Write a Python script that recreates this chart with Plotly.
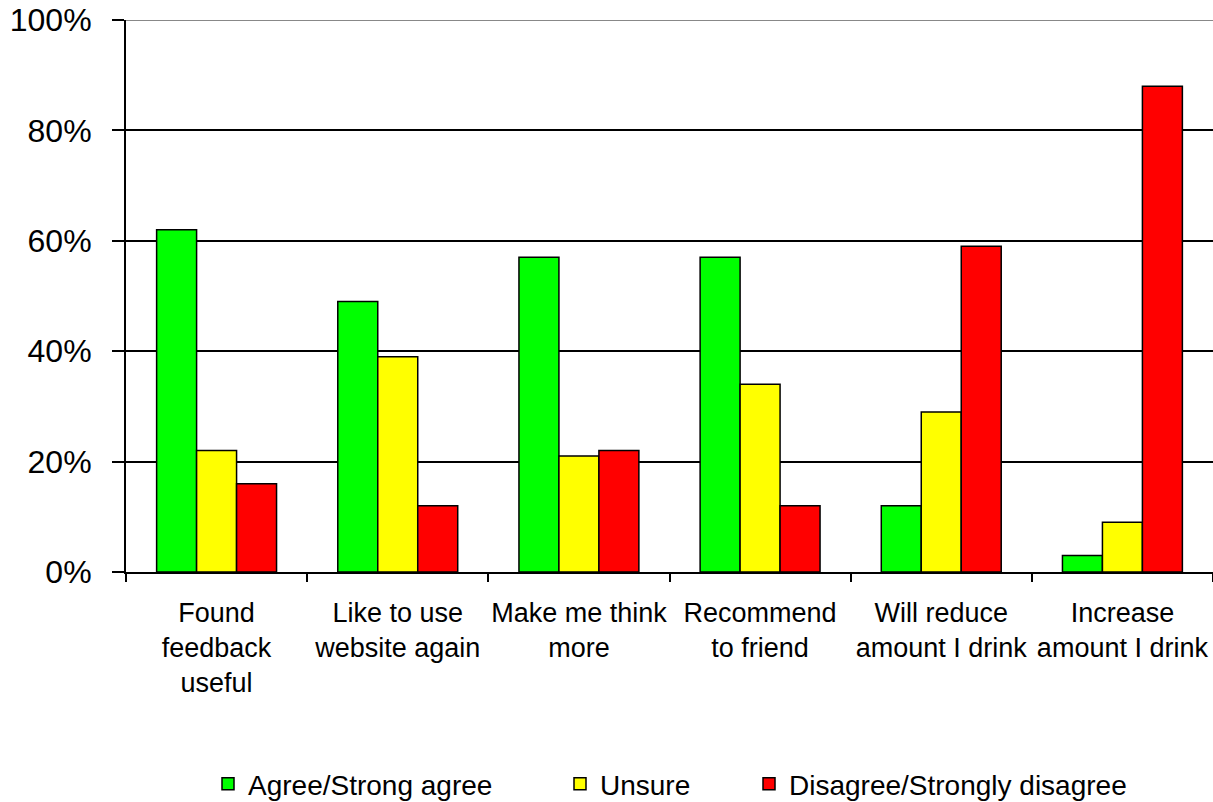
import plotly.graph_objects as go

categories = [
    "Found<br>feedback<br>useful",
    "Like to use<br>website again",
    "Make me think<br>more",
    "Recommend<br>to friend",
    "Will reduce<br>amount I drink",
    "Increase<br>amount I drink",
]
agree = [62, 49, 57, 57, 12, 3]
unsure = [22, 39, 21, 34, 29, 9]
disagree = [16, 12, 22, 12, 59, 88]

series_names = ["Agree/Strong agree", "Unsure", "Disagree/Strongly disagree"]
series_values = [agree, unsure, disagree]
series_colors = ["#00FF00", "#FFFF00", "#FF0000"]
legend_ids = ["legend", "legend2", "legend3"]

W, H = 1213, 802
L, R, T, B = 126, 0, 20, 230
plot_w = W - L - R
plot_h = H - T - B

fig = go.Figure()
for name, vals, col, lg in zip(series_names, series_values, series_colors, legend_ids):
    fig.add_trace(go.Bar(
        x=categories, y=vals, name=name,
        marker=dict(color=col, line=dict(color="black", width=1.5)),
        legend=lg,
    ))

font_family = "Liberation Sans, Arial, sans-serif"


def legend_at(px_left):
    return dict(
        x=(px_left - L) / plot_w, xanchor="left",
        y=-(784 - (H - B)) / plot_h, yanchor="middle",
        orientation="h", bgcolor="rgba(0,0,0,0)",
        font=dict(family=font_family, size=28, color="black"),
        itemwidth=30, itemclick=False, itemdoubleclick=False,
    )


fig.update_layout(
    width=W, height=H,
    margin=dict(l=L, r=R, t=T, b=B, pad=0, autoexpand=False),
    paper_bgcolor="white", plot_bgcolor="white",
    barmode="group", bargap=0.338, bargroupgap=0,
    font=dict(family=font_family, color="black"),
    showlegend=True,
    legend=legend_at(208),
    legend2=legend_at(560),
    legend3=legend_at(749),
    xaxis=dict(
        type="category",
        showline=True, linecolor="black", linewidth=1.5,
        ticks="outside", tickson="boundaries", ticklen=8, tickwidth=1.5,
        tickcolor="black",
        tickangle=0, automargin=False,
        tickfont=dict(size=27, family=font_family, color="black"),
        ticklabelstandoff=16,
        showgrid=False,
        fixedrange=True,
    ),
    yaxis=dict(
        range=[0, 100],
        tickvals=[0, 20, 40, 60, 80, 100],
        ticktext=["0%", "20%", "40%", "60%", "80%", "100%"],
        showline=True, linecolor="black", linewidth=2,
        ticks="outside", ticklen=12, tickwidth=1.5, tickcolor="black",
        automargin=False,
        tickfont=dict(size=32, family=font_family, color="black"),
        ticklabelstandoff=14,
        showgrid=True, gridcolor="black", gridwidth=1.5,
        zeroline=False,
        fixedrange=True,
    ),
)

# lighter rule along the top of the plotting area
fig.add_shape(type="line", xref="paper", yref="y", x0=0, x1=1, y0=100, y1=100,
              line=dict(color="#888888", width=2), layer="above")

fig.write_html("out.html")
